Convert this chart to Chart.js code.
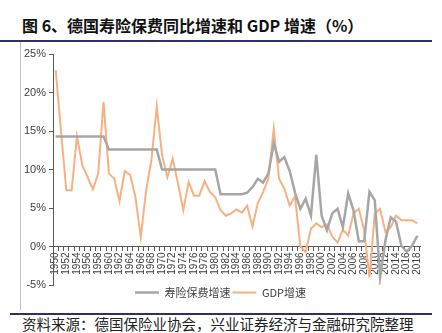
<!DOCTYPE html>
<html>
<head>
<meta charset="utf-8">
<script src="https://cdn.jsdelivr.net/npm/chart.js@4"></script>
<style>
  body { margin: 0; width: 442px; height: 333px; background: #fff; position: relative; overflow: hidden; }
  .title { position: absolute; left: 22px; top: 13px; font: bold 16px "Noto Sans CJK SC"; color: #111; white-space: nowrap; }
  .rule { position: absolute; background: #2f3163; }
  .vline { position: absolute; left: 20px; top: 42px; width: 1px; height: 268px; background: #bdbdbd; }
  .box { position: absolute; left: 21px; top: 42px; width: 411px; height: 266px; }
  .source { position: absolute; left: 22px; top: 313px; font: 14.5px "Noto Sans CJK SC"; color: #222; white-space: nowrap; }
</style>
</head>
<body>
<div class="title">图 6、德国寿险保费同比增速和 GDP 增速（%）</div>
<div class="rule" style="left:0;top:40px;width:432px;height:1.5px"></div>
<div class="vline"></div>
<div class="box"><canvas id="myChart"></canvas></div>
<div class="rule" style="left:10px;top:313px;width:422px;height:2px"></div>
<div class="source">资料来源：德国保险业协会，兴业证券经济与金融研究院整理</div>
<script>
const years = [];
for (let y = 1950; y <= 2018; y++) years.push(String(y));

const premiumGrowth = [
    14.3, 14.3, 14.3, 14.3, 14.3, 14.3, 14.3, 14.3, 14.3, 14.3,
    12.6, 12.6, 12.6, 12.6, 12.6, 12.6, 12.6, 12.6, 12.6, 12.6,
    10.0, 10.0, 10.0, 10.0, 10.0, 10.0, 10.0, 10.0, 10.0, 10.0,
    10.0, 6.8, 6.8, 6.8, 6.8, 6.8, 7.0, 7.7, 8.8, 8.3,
    9.5, 13.4, 11.0, 11.6, 9.8, 7.0, 4.9, 6.2, 4.0, 11.9,
    4.0, 2.1, 4.3, 4.9, 2.5, 6.9, 4.7, 0.65, 0.7, 7.1,
    6.0, -4.0, 0.8, 3.8, 3.2, 0.1, -0.7, 0.1, 1.4
];
const gdpGrowth = [
    22.9, 15.0, 7.3, 7.3, 14.3, 10.6, 9.0, 7.4, 9.5, 18.8,
    9.5, 8.8, 5.9, 9.8, 9.3, 6.4, 1.2, 7.3, 11.2, 18.2,
    11.9, 9.0, 11.4, 8.2, 4.7, 8.4, 6.6, 6.6, 8.5, 7.1,
    6.4, 4.7, 4.0, 4.3, 4.8, 4.4, 5.3, 2.6, 5.6, 7.1,
    8.8, 15.3, 8.8, 7.5, 5.3, 6.5, 0.0, -0.7, 2.3, 3.0,
    2.5, 2.9, 1.3, 0.5, 2.2, 1.4, 4.3, 4.9, 2.1, -4.0,
    4.3, 4.9, 1.9, 2.5, 4.0, 3.4, 3.4, 3.4, 3.0
];
const yTicks = [-5, 0, 5, 10, 15, 20, 25];

const axisColor = "#595959";
const textColor = "#404040";

new Chart(document.getElementById("myChart"), {
    type: "line",
    data: {
        labels: years,
        datasets: [{
            label: "寿险保费增速",
            data: premiumGrowth,
            borderColor: "#a6a6a6",
            backgroundColor: "#a6a6a6",
            borderWidth: 2.5,
            pointRadius: 0,
            tension: 0
        }, {
            label: "GDP增速",
            data: gdpGrowth,
            borderColor: "#f6b183",
            backgroundColor: "#f6b183",
            borderWidth: 2,
            pointRadius: 0,
            tension: 0
        }]
    },
    options: {
        responsive: true,
        maintainAspectRatio: false,
        animation: false,
        layout: { padding: { top: 12, right: 12, left: 0, bottom: 0 } },
        plugins: {
            tooltip: { enabled: false },
            legend: {
                position: "bottom",
                labels: {
                    usePointStyle: true,
                    pointStyle: "line",
                    pointStyleWidth: 24,
                    color: textColor,
                    font: { family: "Noto Sans CJK SC", size: 11 },
                    padding: 2
                }
            }
        },
        scales: {
            x: {
                position: { y: 0 },
                offset: true,
                grid: {
                    offset: true,
                    drawOnChartArea: false,
                    drawTicks: true,
                    tickLength: 4,
                    color: axisColor
                },
                border: { display: true, color: axisColor },
                ticks: {
                    autoSkip: false,
                    maxRotation: 90,
                    minRotation: 90,
                    padding: 2,
                    color: textColor,
                    font: { family: "Liberation Sans", size: 10 },
                    callback: (v, i) => (i % 2 === 0 ? years[i] : "")
                }
            },
            y: {
                min: -5,
                max: 25,
                afterBuildTicks: (axis) => { axis.ticks = yTicks.map(v => ({ value: v })); },
                grid: {
                    drawOnChartArea: false,
                    drawTicks: true,
                    tickLength: 4,
                    color: axisColor
                },
                border: { display: true, color: axisColor },
                ticks: {
                    padding: 3,
                    color: textColor,
                    font: { family: "Liberation Sans", size: 11 },
                    callback: (v) => v + "%"
                }
            }
        }
    }
});
</script>
</body>
</html>
